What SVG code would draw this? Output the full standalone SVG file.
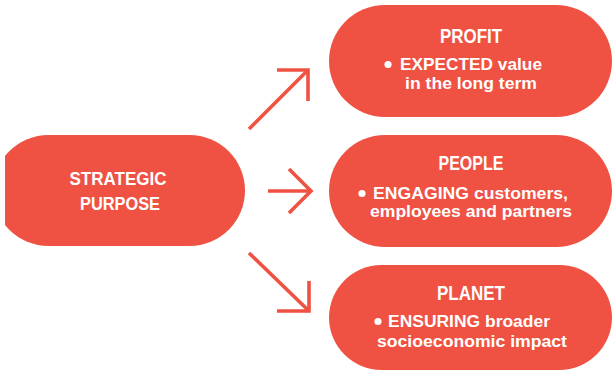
<svg xmlns="http://www.w3.org/2000/svg" width="613" height="373" viewBox="0 0 613 373">
  <style>
    .pill { fill: #EF5142; }
    .title { font-family: "Liberation Sans", Arial, sans-serif; font-weight: bold; fill: #ffffff; text-anchor: middle; }
    .body { font-family: "Liberation Sans", Arial, sans-serif; font-weight: bold; font-size: 16.5px; fill: #ffffff; }
    .bullet { fill: #ffffff; }
    .arrow { fill: none; stroke: #EF5142; stroke-width: 3.6; stroke-linejoin: miter; stroke-linecap: butt; }
  </style>
  <defs>
    <clipPath id="leftClip">
      <rect x="5" y="0" width="300" height="373"/>
    </clipPath>
  </defs>
  <rect width="613" height="373" fill="#ffffff"/>

  <g id="strategic-purpose">
    <rect class="pill" x="-7" y="135" width="252" height="111" rx="55.5" ry="55.5" clip-path="url(#leftClip)"/>
    <text class="title" x="118" y="185" font-size="19" textLength="97" lengthAdjust="spacingAndGlyphs">STRATEGIC</text>
    <text class="title" x="120" y="210" font-size="19" textLength="80" lengthAdjust="spacingAndGlyphs">PURPOSE</text>
  </g>

  <g id="connectors">
    <path class="arrow" d="M249,129 L308,70"/>
    <path class="arrow" d="M277,70 L308,70 L308,101"/>
    <path class="arrow" d="M268,191 L310,191"/>
    <path class="arrow" d="M289,169 L311,191 L289,213"/>
    <path class="arrow" d="M249,253 L309,311"/>
    <path class="arrow" d="M277,311 L309,311 L309,281"/>
  </g>

  <g id="profit">
    <rect class="pill" x="329" y="5" width="283" height="112" rx="56" ry="56"/>
    <text class="title" x="471" y="43" font-size="20" textLength="62" lengthAdjust="spacingAndGlyphs">PROFIT</text>
    <circle class="bullet" cx="388" cy="64.5" r="3.6"/>
    <text class="body" x="400" y="70" textLength="142" lengthAdjust="spacingAndGlyphs">EXPECTED value</text>
    <text class="body" x="405" y="89" textLength="132" lengthAdjust="spacingAndGlyphs">in the long term</text>
  </g>

  <g id="people">
    <rect class="pill" x="329" y="135" width="283" height="112" rx="56" ry="56"/>
    <text class="title" x="471" y="170" font-size="20" textLength="65" lengthAdjust="spacingAndGlyphs">PEOPLE</text>
    <circle class="bullet" cx="362" cy="193.5" r="3.6"/>
    <text class="body" x="373" y="198.5" textLength="195" lengthAdjust="spacingAndGlyphs">ENGAGING customers,</text>
    <text class="body" x="370" y="217" textLength="202" lengthAdjust="spacingAndGlyphs">employees and partners</text>
  </g>

  <g id="planet">
    <rect class="pill" x="329" y="265" width="283" height="105" rx="52.5" ry="52.5"/>
    <text class="title" x="471" y="300" font-size="20" textLength="68" lengthAdjust="spacingAndGlyphs">PLANET</text>
    <circle class="bullet" cx="378" cy="321.5" r="3.6"/>
    <text class="body" x="388" y="327" textLength="162" lengthAdjust="spacingAndGlyphs">ENSURING broader</text>
    <text class="body" x="377" y="346.5" textLength="190" lengthAdjust="spacingAndGlyphs">socioeconomic impact</text>
  </g>
</svg>
